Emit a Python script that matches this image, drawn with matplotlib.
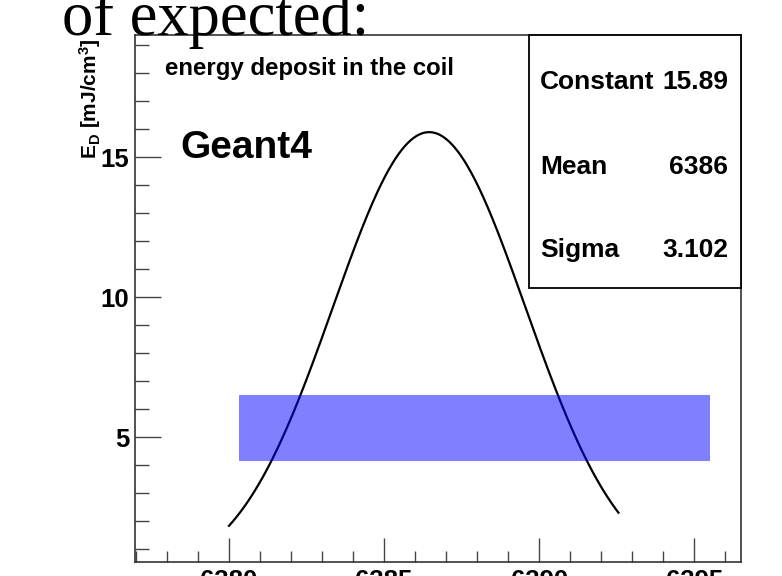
import numpy as np
import matplotlib
matplotlib.use("Agg")
import matplotlib.pyplot as plt
from matplotlib.ticker import MultipleLocator, FixedLocator

# Fit parameters (Gaussian)
fit_constant = 15.89
fit_mean = 6386.45
fit_sigma = 3.102
fit_range = [6380.0, 6392.55]

# Expected band
band_x = [6380.33, 6395.5]
band_y = [4.15, 6.5]

# Stats box entries
stat_names = ["Constant", "Mean", "Sigma"]
stat_values = ["15.89", "6386", "3.102"]

x_major = [6380, 6385, 6390, 6395]
y_major = [5, 10, 15]

FONT = ['Liberation Sans', 'DejaVu Sans']
plt.rcParams['font.family'] = FONT
plt.rcParams['font.weight'] = 'bold'
plt.rcParams['mathtext.fontset'] = 'custom'
plt.rcParams['mathtext.rm'] = 'Liberation Sans:bold'
plt.rcParams['mathtext.it'] = 'Liberation Sans:bold'
plt.rcParams['mathtext.bf'] = 'Liberation Sans:bold'

fig = plt.figure(figsize=(7.82, 5.76), dpi=100)
W, H = 782.0, 576.0
ax = fig.add_axes([135 / W, 1 - 562 / H, (741 - 135) / W, (562 - 35) / H])

xs = np.linspace(fit_range[0], fit_range[1], 400)
ys = fit_constant * np.exp(-0.5 * ((xs - fit_mean) / fit_sigma) ** 2)
ax.plot(xs, ys, color='black', lw=1.6, zorder=2)

ax.fill_between(band_x, band_y[0], band_y[1], color='blue', alpha=0.5,
                linewidth=0, zorder=3)

ax.set_xlim(6376.97, 6396.5)
ax.set_ylim(0.536, 19.36)
ax.xaxis.set_major_locator(FixedLocator(x_major))
ax.xaxis.set_minor_locator(MultipleLocator(1))
ax.yaxis.set_major_locator(FixedLocator(y_major))
ax.yaxis.set_minor_locator(MultipleLocator(1))
ax.tick_params(which='both', direction='in', top=False, right=False,
               width=1.0, color='#444444')
ax.tick_params(axis='y', which='major', length=19, labelsize=18.5, pad=4)
ax.tick_params(axis='y', which='minor', length=10)
ax.tick_params(axis='x', which='major', length=17, labelsize=18.5, pad=5)
ax.tick_params(axis='x', which='minor', length=8)
for lab in ax.get_xticklabels() + ax.get_yticklabels():
    lab.set_fontweight('bold')
for s in ax.spines.values():
    s.set_linewidth(1.2)
    s.set_color('#333333')

# Y label
fig.text(90 / W, 1 - 38 / H, r'E$_{\rm D}$ [mJ/cm$^{3}$]', rotation=90,
         ha='center', va='top', fontsize=15, fontweight='bold')

# Title texts
fig.text(165 / W, 1 - 69 / H, 'energy deposit in the coil', ha='left',
         va='center', fontsize=17.3, fontweight='bold')
fig.text(180 / W, 1 - 148 / H, 'Geant4', ha='left', va='center',
         fontsize=28, fontweight='bold')

# Stats box
box = plt.Rectangle((529 / W, 1 - 288 / H), (741 - 529) / W, (288 - 35) / H,
                    transform=fig.transFigure, facecolor='white',
                    edgecolor='black', lw=1.3, zorder=5)
fig.add_artist(box)
rows_y = [82, 167, 250]
for name, val, yy in zip(stat_names, stat_values, rows_y):
    fig.text(540 / W, 1 - yy / H, name, ha='left', va='center',
             fontsize=19, fontweight='bold', zorder=6)
    fig.text(728 / W, 1 - yy / H, val, ha='right', va='center',
             fontsize=19, fontweight='bold', zorder=6)

# Slide text (cut off at top)
fig.text(62 / W, 1 - 35 / H, 'of expected:', ha='left', va='baseline',
         fontsize=45, family=['Liberation Serif', 'DejaVu Serif'],
         fontweight='normal', zorder=7)

fig.savefig('out.png', dpi=100)
